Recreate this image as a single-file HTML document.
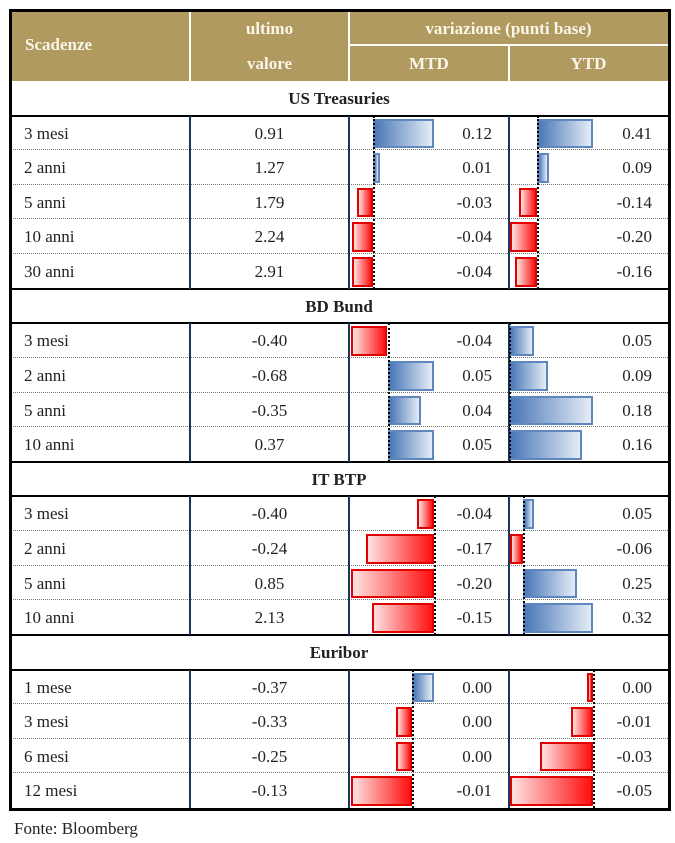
<!DOCTYPE html>
<html><head><meta charset="utf-8"><style>
body{margin:0;width:675px;height:843px;background:#fff;position:relative;font-family:"Liberation Serif",serif;color:#222;overflow:hidden}
.a{position:absolute}
.t{position:absolute;font-size:17px;line-height:20px;white-space:nowrap}
.h{color:#fbf6ea;font-size:17px;font-weight:bold;position:absolute;line-height:20px;white-space:nowrap}
.sec{position:absolute;left:10px;width:658px;text-align:center;font-weight:bold;font-size:17px;line-height:20px}
.bl{background:linear-gradient(to right,#4a78b8,#e4ecf6);border:2px solid #5f87bd;box-sizing:border-box}
.rd{background:linear-gradient(to right,#ffe2e2,#ff1010);border:2px solid #e00000;box-sizing:border-box}
</style></head><body>
<div class="a" style="left:10px;top:10px;width:658px;height:71px;background:#b09a5f"></div>
<div class="a" style="left:189px;top:10px;width:2px;height:71px;background:#fff"></div>
<div class="a" style="left:348px;top:10px;width:2px;height:71px;background:#fff"></div>
<div class="a" style="left:349px;top:44px;width:319px;height:2px;background:#fff"></div>
<div class="a" style="left:508px;top:45px;width:2px;height:36px;background:#fff"></div>
<div class="h" style="left:25px;top:35px">Scadenze</div>
<div class="h" style="left:190px;width:159px;text-align:center;top:19px">ultimo</div>
<div class="h" style="left:190px;width:159px;text-align:center;top:54px">valore</div>
<div class="h" style="left:349px;width:319px;text-align:center;top:19px">variazione (punti base)</div>
<div class="h" style="left:349px;width:160px;text-align:center;top:54px">MTD</div>
<div class="h" style="left:509px;width:159px;text-align:center;top:54px">YTD</div>
<div id="g"></div>
<div class="a" style="left:9px;top:9px;width:656px;height:796px;border:3px solid #000"></div>
<div class="t" style="left:14px;top:819px">Fonte: Bloomberg</div>
<script>
var rows=[
["S","US Treasuries"],
["3 mesi","0.91","0.12","0.41",[373,434,"b"],[537,593,"b"]],
["2 anni","1.27","0.01","0.09",[373,380,"b"],[537,549,"b"]],
["5 anni","1.79","-0.03","-0.14",[357,373,"r"],[519,537,"r"]],
["10 anni","2.24","-0.04","-0.20",[352,373,"r"],[510,537,"r"]],
["30 anni","2.91","-0.04","-0.16",[352,373,"r"],[515,537,"r"]],
["S","BD Bund"],
["3 mesi","-0.40","-0.04","0.05",[351,387,"r"],[509,534,"b"]],
["2 anni","-0.68","0.05","0.09",[388,434,"b"],[509,548,"b"]],
["5 anni","-0.35","0.04","0.18",[388,421,"b"],[509,593,"b"]],
["10 anni","0.37","0.05","0.16",[388,434,"b"],[509,582,"b"]],
["S","IT BTP"],
["3 mesi","-0.40","-0.04","0.05",[417,434,"r"],[523,534,"b"]],
["2 anni","-0.24","-0.17","-0.06",[366,434,"r"],[510,523,"r"]],
["5 anni","0.85","-0.20","0.25",[351,434,"r"],[523,577,"b"]],
["10 anni","2.13","-0.15","0.32",[372,434,"r"],[523,593,"b"]],
["S","Euribor"],
["1 mese","-0.37","0.00","0.00",[412,434,"b"],[587,593,"r"]],
["3 mesi","-0.33","0.00","-0.01",[396,412,"r"],[571,593,"r"]],
["6 mesi","-0.25","0.00","-0.03",[396,412,"r"],[540,593,"r"]],
["12 mesi","-0.13","-0.01","-0.05",[351,412,"r"],[510,593,"r"]]];
var zeros=[[373,537],[388,509],[434,523],[412,593]];
var h="",y=81,rh=727/21,si=-1;
function zl(x,y0,y1){return '<div class="a" style="left:'+x+'px;top:'+y0+'px;height:'+(y1-y0)+'px;border-left:2px dotted #000"></div>';}
var segs=[];
rows.forEach(function(r,i){
 var top=Math.round(y),bot=Math.round(y+rh);
 if(r[0]=="S"){si++;
  if(i>0)h+='<div class="a" style="left:10px;top:'+(top-1)+'px;width:658px;height:2px;background:#000"></div>';
  h+='<div class="sec" style="top:'+(top+8)+'px">'+r[1]+'</div>';
  h+='<div class="a" style="left:10px;top:'+(bot-1)+'px;width:658px;height:2px;background:#000"></div>';
  segs.push([bot,0]);
 }else{
  var nxt=rows[i+1];
  if(nxt&&nxt[0]!="S")h+='<div class="a" style="left:10px;top:'+(bot-1)+'px;width:658px;border-top:1.5px dotted #777"></div>';
  segs[segs.length-1][1]=bot;
  h+='<div class="t" style="left:24px;top:'+(top+8)+'px">'+r[0]+'</div>';
  h+='<div class="t" style="left:190px;width:159px;text-align:center;top:'+(top+8)+'px">'+r[1]+'</div>';
  h+='<div class="t" style="left:440px;width:52px;text-align:right;top:'+(top+8)+'px">'+r[2]+'</div>';
  h+='<div class="t" style="left:600px;width:52px;text-align:right;top:'+(top+8)+'px">'+r[3]+'</div>';
  [r[4],r[5]].forEach(function(b){h+='<div class="a '+(b[2]=="b"?"bl":"rd")+'" style="left:'+b[0]+'px;top:'+(top+3)+'px;width:'+Math.max(b[1]-b[0],5)+'px;height:'+(bot-top-5)+'px"></div>';});
 }
 y+=rh;
});
segs.forEach(function(s,k){
 h+='<div class="a" style="left:189px;top:'+s[0]+'px;width:2px;height:'+(s[1]-s[0])+'px;background:#17375e"></div>';
 h+='<div class="a" style="left:348px;top:'+s[0]+'px;width:2px;height:'+(s[1]-s[0])+'px;background:#17375e"></div>';
 h+='<div class="a" style="left:508px;top:'+s[0]+'px;width:2px;height:'+(s[1]-s[0])+'px;background:#17375e"></div>';
 h+=zl(zeros[k][0],s[0],s[1]);h+=zl(zeros[k][1],s[0],s[1]);
});
document.getElementById("g").innerHTML=h;
</script>
</body></html>
